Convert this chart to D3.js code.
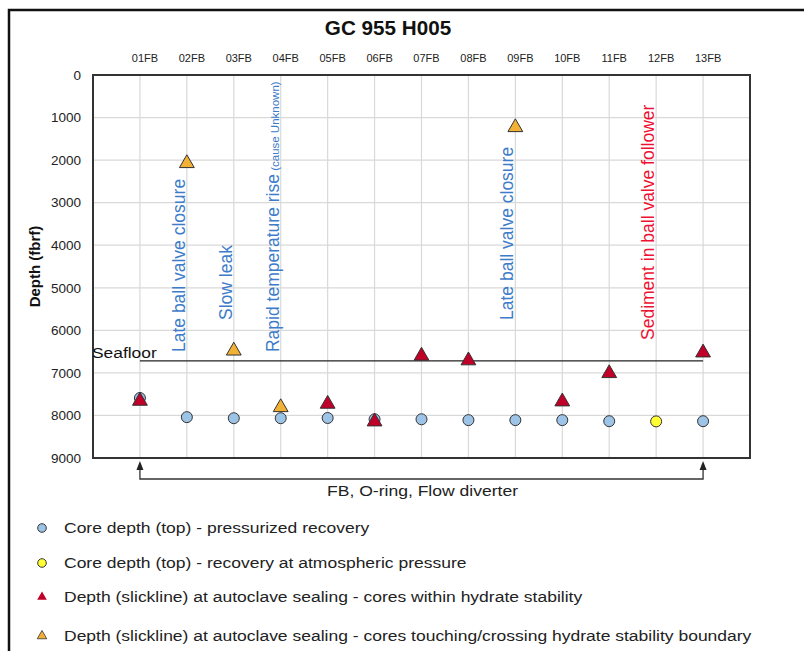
<!DOCTYPE html>
<html>
<head>
<meta charset="utf-8">
<script src="https://cdn.jsdelivr.net/npm/d3@7"></script>
<style>
  body { margin: 0; background: #fff; }
  svg { display: block; font-family: "Liberation Sans", Arial, sans-serif; }
</style>
</head>
<body>
<svg id="chart" width="804" height="651"></svg>
<script>
// data
const categories = ["01FB", "02FB", "03FB", "04FB", "05FB", "06FB", "07FB", "08FB", "09FB", "10FB", "11FB", "12FB", "13FB"];
const yTicks = [0, 1000, 2000, 3000, 4000, 5000, 6000, 7000, 8000, 9000];

// core depth (top) - pressurized recovery
const pressurized = [
  ["01FB", 7590], ["02FB", 8040], ["03FB", 8065], ["04FB", 8065], ["05FB", 8060],
  ["06FB", 8090], ["07FB", 8090], ["08FB", 8110], ["09FB", 8110], ["10FB", 8110],
  ["11FB", 8135], ["13FB", 8135]
];
// core depth (top) - atmospheric recovery
const atmospheric = [["12FB", 8140]];
// slickline depth - within hydrate stability
const withinStability = [
  ["01FB", 7660], ["05FB", 7730], ["06FB", 8145], ["07FB", 6600], ["08FB", 6710],
  ["10FB", 7675], ["11FB", 7010], ["13FB", 6525]
];
// slickline depth - touching/crossing boundary
const crossingBoundary = [["02FB", 2075], ["03FB", 6480], ["04FB", 7810], ["09FB", 1230]];

const seafloorDepth = 6720;

// rotated notes: category, text, extra small text, colour, depth where the text starts
const notes = [
  { cat: "02FB", text: "Late ball valve closure", small: "", color: "#3d7cc9", depth: 6510 },
  { cat: "03FB", text: "Slow leak", small: "", color: "#3d7cc9", depth: 5757 },
  { cat: "04FB", text: "Rapid temperature rise", small: " (cause Unknown)", color: "#3d7cc9", depth: 6510 },
  { cat: "09FB", text: "Late ball valve closure", small: "", color: "#3d7cc9", depth: 5757 },
  { cat: "12FB", text: "Sediment in ball valve follower", small: "", color: "#ee1133", depth: 6227 }
];

const legendItems = [
  { label: "Core depth (top) - pressurized recovery", shape: "circle", fill: "#9dc3e6" },
  { label: "Core depth (top) - recovery at atmospheric pressure", shape: "circle", fill: "#ffff33" },
  { label: "Depth (slickline) at autoclave sealing - cores within hydrate stability", shape: "triangle", fill: "#c00028" },
  { label: "Depth (slickline) at autoclave sealing - cores touching/crossing hydrate stability boundary", shape: "triangle", fill: "#f2b134" }
];

const svg = d3.select("#chart");
const margin = { top: 75, right: 54, bottom: 193, left: 93 };
const W = 804, H = 651;
const stretch = 1.13; // the source picture is a bit wider than tall

const x = d3.scaleLinear().domain([0, categories.length + 1]).range([margin.left, W - margin.right]);
const xc = c => x(categories.indexOf(c) + 1);
const y = d3.scaleLinear().domain([0, 9000]).range([margin.top, H - margin.bottom]);

// outer frame
svg.append("path")
  .attr("d", `M9,${H} V10 H${W}`)
  .attr("fill", "none").attr("stroke", "#111").attr("stroke-width", 2.5);

// title
svg.append("text")
  .attr("transform", "translate(388,35) scale(1.06,1)")
  .attr("text-anchor", "middle")
  .attr("font-size", 19.5).attr("font-weight", "bold")
  .attr("fill", "#111")
  .text("GC 955 H005");

// grid
svg.append("g")
  .selectAll("line.h")
  .data(yTicks.slice(1, -1))
  .join("line")
  .attr("x1", margin.left).attr("x2", W - margin.right)
  .attr("y1", d => y(d)).attr("y2", d => y(d))
  .attr("stroke", "#d9d9d9").attr("stroke-width", 1.2);

svg.append("g")
  .selectAll("line.v")
  .data(categories)
  .join("line")
  .attr("x1", d => xc(d)).attr("x2", d => xc(d))
  .attr("y1", margin.top).attr("y2", H - margin.bottom)
  .attr("stroke", "#d9d9d9").attr("stroke-width", 1.2);

// plot border
svg.append("rect")
  .attr("x", margin.left).attr("y", margin.top)
  .attr("width", W - margin.left - margin.right)
  .attr("height", H - margin.top - margin.bottom)
  .attr("fill", "none").attr("stroke", "#333").attr("stroke-width", 2);

// y axis labels
const yAxis = svg.append("g")
  .attr("transform", `translate(${margin.left},0)`)
  .call(d3.axisLeft(y).tickValues(yTicks).tickSize(0).tickPadding(12).tickFormat(d3.format("d")));
yAxis.select(".domain").remove();
yAxis.selectAll("text")
  .attr("font-size", 13.5).attr("fill", "#222")
  .attr("font-family", "Liberation Sans, Arial, sans-serif");

svg.append("text")
  .attr("transform", `translate(40,${(margin.top + H - margin.bottom) / 2}) rotate(-90)`)
  .attr("text-anchor", "middle")
  .attr("font-size", 15).attr("font-weight", "bold")
  .attr("fill", "#111")
  .text("Depth (fbrf)");

// top category labels
svg.append("g")
  .selectAll("text")
  .data(categories)
  .join("text")
  .attr("x", d => xc(d) + 5)
  .attr("y", 62)
  .attr("text-anchor", "middle")
  .attr("font-size", 11).attr("fill", "#222")
  .text(d => d);

// seafloor
svg.append("line")
  .attr("x1", xc(categories[0])).attr("x2", xc(categories[categories.length - 1]))
  .attr("y1", y(seafloorDepth)).attr("y2", y(seafloorDepth))
  .attr("stroke", "#222").attr("stroke-width", 1.2);
svg.append("text")
  .attr("transform", `translate(${margin.left - 1},${y(seafloorDepth) - 3}) scale(1.2,1)`)
  .attr("font-size", 14.5).attr("fill", "#111")
  .text("Seafloor");

// rotated notes
notes.forEach(n => {
  const t = svg.append("text")
    .attr("transform", `translate(${xc(n.cat) - 8},${y(n.depth)}) rotate(-90)`)
    .attr("font-size", 17.5).attr("fill", n.color)
    .attr("dy", "0.35em");
  t.append("tspan").text(n.text);
  if (n.small) t.append("tspan").attr("font-size", 11.5).text(n.small);
});

// markers
const tri = d3.symbol().type(d3.symbolTriangle).size(95);
const plotPts = svg.append("g");

plotPts.selectAll("circle.p")
  .data(pressurized)
  .join("circle")
  .attr("cx", d => xc(d[0])).attr("cy", d => y(d[1]))
  .attr("r", 5.5)
  .attr("fill", "#9dc3e6").attr("stroke", "#333").attr("stroke-width", 1);

plotPts.selectAll("circle.a")
  .data(atmospheric)
  .join("circle")
  .attr("cx", d => xc(d[0])).attr("cy", d => y(d[1]))
  .attr("r", 5.5)
  .attr("fill", "#ffff33").attr("stroke", "#333").attr("stroke-width", 1);

plotPts.selectAll("path.w")
  .data(withinStability)
  .join("path")
  .attr("transform", d => `translate(${xc(d[0])},${y(d[1])})`)
  .attr("d", tri)
  .attr("fill", "#c00028").attr("stroke", "#333").attr("stroke-width", 1);

plotPts.selectAll("path.c")
  .data(crossingBoundary)
  .join("path")
  .attr("transform", d => `translate(${xc(d[0])},${y(d[1])})`)
  .attr("d", tri)
  .attr("fill", "#f2b134").attr("stroke", "#333").attr("stroke-width", 1);

// bracket under plot
const bx0 = xc(categories[0]), bx1 = xc(categories[categories.length - 1]);
const by = H - margin.bottom + 21, tipY = H - margin.bottom + 3;
svg.append("path")
  .attr("d", `M${bx0},${tipY + 6} V${by} H${bx1} V${tipY + 6}`)
  .attr("fill", "none").attr("stroke", "#333").attr("stroke-width", 1.3);
[bx0, bx1].forEach(bx => {
  svg.append("path")
    .attr("d", `M${bx},${tipY} L${bx - 3.5},${tipY + 9} L${bx + 3.5},${tipY + 9} Z`)
    .attr("fill", "#222");
});
svg.append("text")
  .attr("transform", `translate(${(bx0 + bx1) / 2 + 1},${by + 17}) scale(1.17,1)`)
  .attr("text-anchor", "middle")
  .attr("font-size", 15).attr("fill", "#222")
  .text("FB, O-ring, Flow diverter");

// legend
const legendTri = d3.symbol().type(d3.symbolTriangle).size(40);
const legendY = [528, 563, 597, 636];
const lg = svg.append("g");
legendItems.forEach((item, i) => {
  const g = lg.append("g").attr("transform", `translate(42,${legendY[i]})`);
  if (item.shape === "circle") {
    g.append("circle").attr("r", 4.3).attr("fill", item.fill).attr("stroke", "#333").attr("stroke-width", 1);
  } else {
    g.append("path").attr("d", legendTri).attr("fill", item.fill)
      .attr("stroke", item.fill === "#f2b134" ? "#333" : "none").attr("stroke-width", 0.8);
  }
  g.append("text")
    .attr("transform", `translate(22,0) scale(${stretch},1)`)
    .attr("dy", "0.35em")
    .attr("font-size", 15.5).attr("fill", "#222")
    .text(item.label);
});
</script>
</body>
</html>
